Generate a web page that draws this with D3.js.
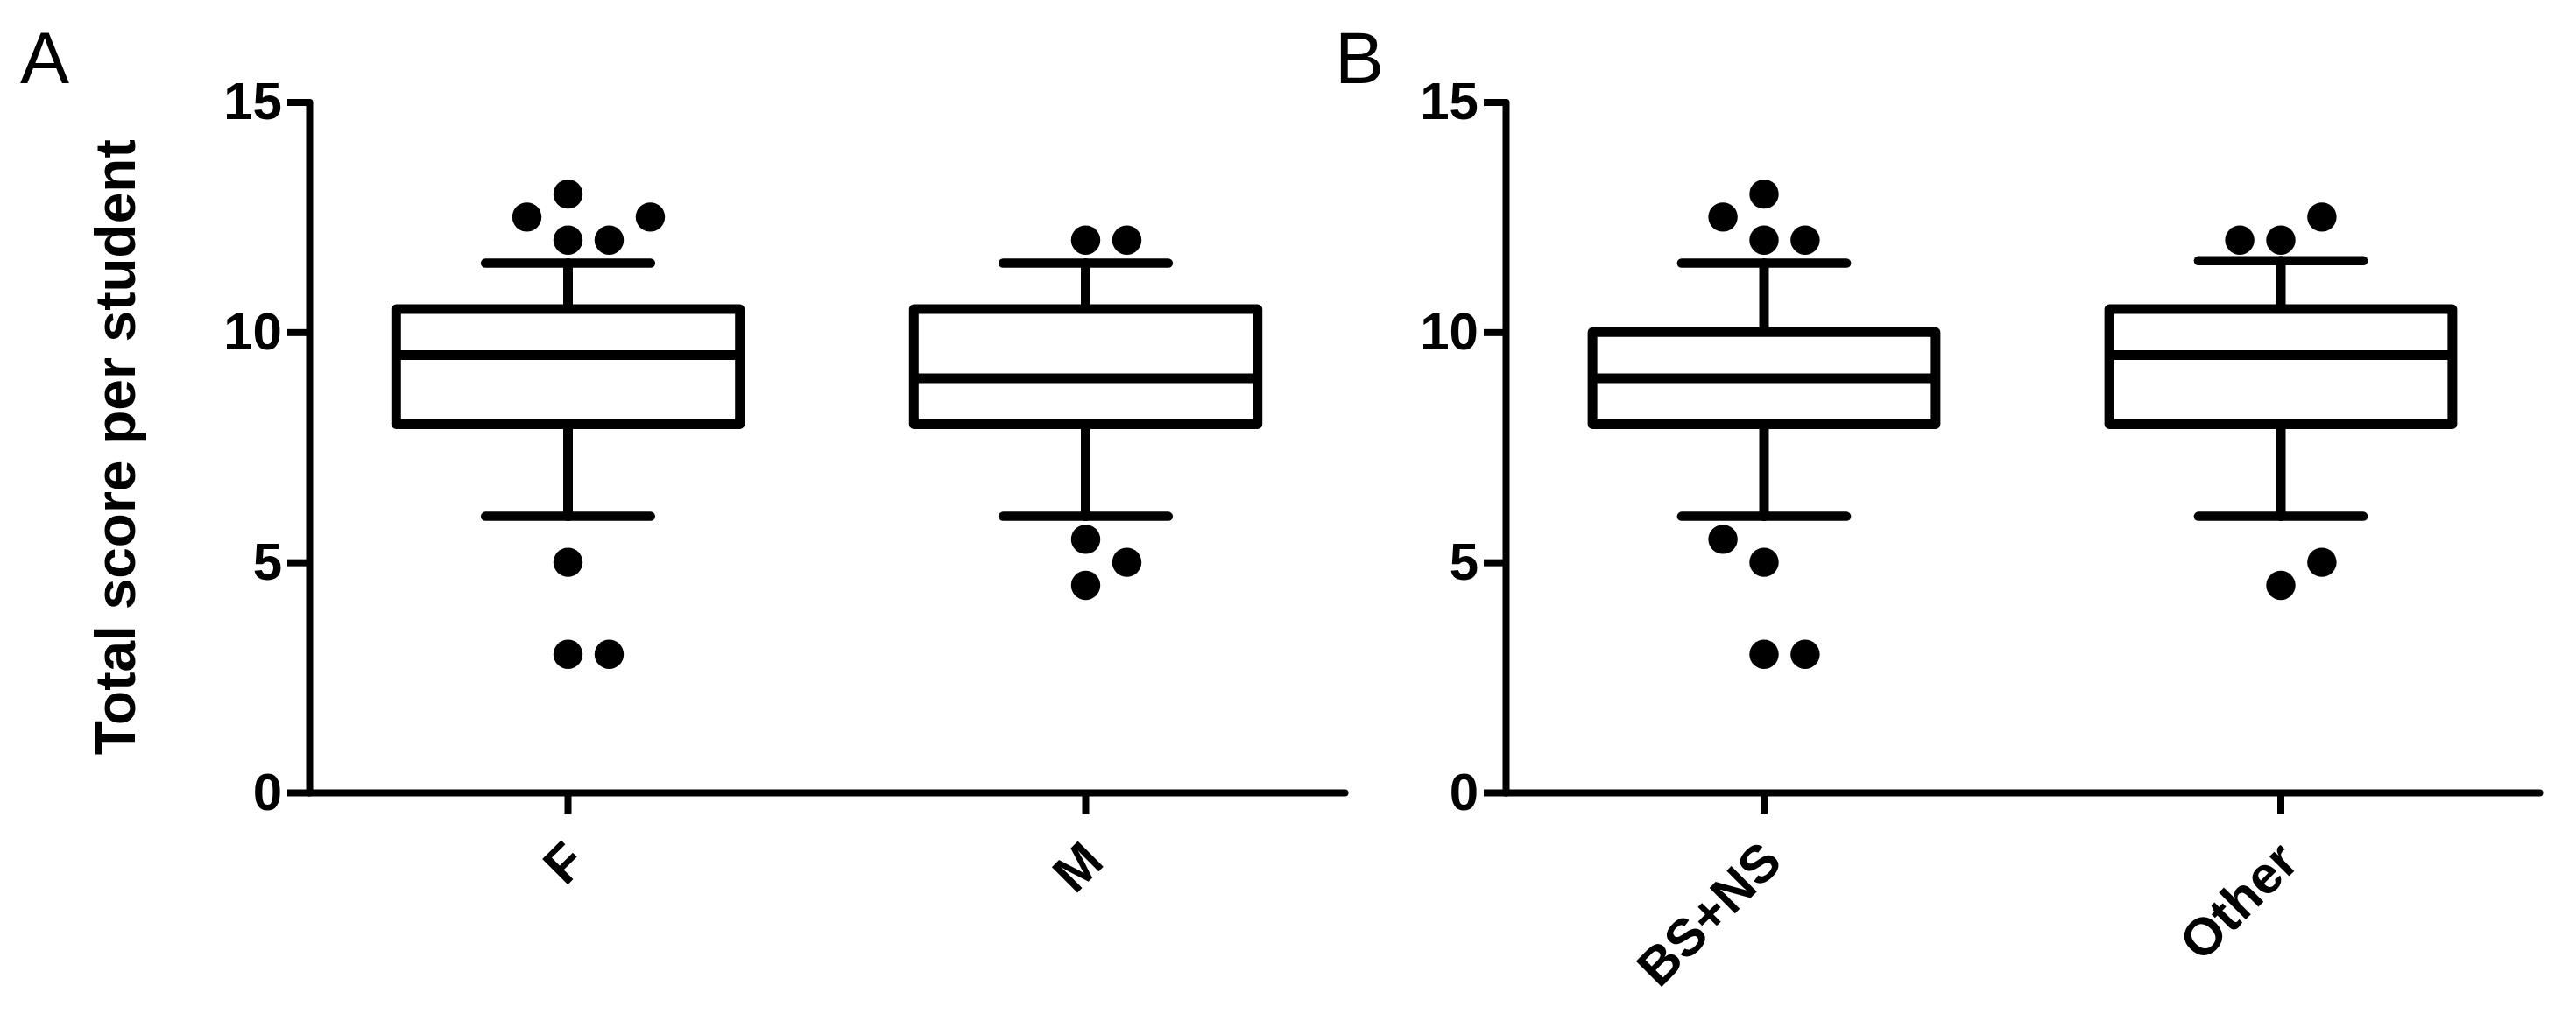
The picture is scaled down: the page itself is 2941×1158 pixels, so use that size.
<!DOCTYPE html>
<html>
<head>
<meta charset="utf-8">
<script src="https://cdn.jsdelivr.net/npm/d3@7"></script>
<style>
  html, body { margin: 0; padding: 0; background: #fff; }
  svg { display: block; }
  text { font-family: "Liberation Sans", Arial, sans-serif; fill: #000; }
</style>
</head>
<body>
<svg id="chart" width="2941" height="1158"></svg>
<script>
// ---- data ----
const yLabel = "Total score per student";
const yTicks = [0, 5, 10, 15];

const panelA = "A";
const catsA = ["F", "M"];
const minA = [6, 6];
const q1A = [8, 8];
const medA = [9.5, 9];
const q3A = [10.5, 10.5];
const maxA = [11.5, 11.5];
const outValsA = [[13, 12.5, 12.5, 12, 12, 5, 3, 3], [12, 12, 5.5, 5, 4.5]];
const outSlotsA = [[0, -1, 2, 0, 1, 0, 0, 1], [0, 1, 0, 1, 0]];

const panelB = "B";
const catsB = ["BS+NS", "Other"];
const minB = [6, 6];
const q1B = [8, 8];
const medB = [9, 9.5];
const q3B = [10, 10.5];
const maxB = [11.5, 11.55];
const outValsB = [[13, 12.5, 12, 12, 5.5, 5, 3, 3], [12, 12, 12.5, 5, 4.5]];
const outSlotsB = [[0, -1, 0, 1, -1, 0, 0, 1], [-1, 0, 1, 1, 0]];

// ---- drawing ----
const svg = d3.select("#chart");
const y = d3.scaleLinear().domain([0, 15]).range([905, 116.5]);

function drawPanel(letter, letterX, x0, x1, cats, mins, q1s, meds, q3s, maxs, outVals, outSlots) {
  const g = svg.append("g");
  const x = d3.scaleBand().domain(cats).range([x0, x1]).padding(0);
  const bw = x.bandwidth();
  const boxHalf = bw * 0.332;
  const capHalf = bw * 0.168;
  const slotW = bw * 0.0795;

  // panel letter
  svg.append("text").attr("x", letterX).attr("y", 95)
    .attr("font-size", 84).text(letter);

  // y axis
  const ya = g.append("g").attr("transform", `translate(${x0},0)`)
    .call(d3.axisLeft(y).tickValues(yTicks).tickSize(25).tickSizeOuter(0).tickPadding(6));
  // x axis
  const xa = g.append("g").attr("transform", `translate(0,${y(0)})`)
    .call(d3.axisBottom(x).tickSize(25).tickSizeOuter(0).tickFormat(() => ""));

  [ya, xa].forEach(a => {
    a.select(".domain").attr("stroke", "#000").attr("stroke-width", 8)
      .attr("stroke-linecap", "round").attr("fill", "none");
    a.selectAll(".tick line").attr("stroke", "#000").attr("stroke-width", 8);
  });
  ya.selectAll(".tick text").attr("font-size", 60).attr("font-weight", "bold")
    .attr("font-family", "Liberation Sans, Arial, sans-serif").attr("fill", "#000");

  // x labels rotated
  g.selectAll(".xlab").data(cats).enter().append("text")
    .attr("class", "xlab")
    .attr("transform", d => `translate(${x(d) + bw / 2 + 23},${y(0) + 82}) rotate(-45)`)
    .attr("text-anchor", "end")
    .attr("font-size", 60).attr("font-weight", "bold")
    .text(d => d);

  cats.forEach((c, i) => {
    const cx = x(c) + bw / 2;
    const bg = g.append("g").attr("stroke", "#000").attr("fill", "none")
      .attr("stroke-linecap", "round").attr("stroke-linejoin", "round");
    // whiskers
    bg.append("line").attr("x1", cx).attr("x2", cx).attr("y1", y(q3s[i])).attr("y2", y(maxs[i])).attr("stroke-width", 11);
    bg.append("line").attr("x1", cx).attr("x2", cx).attr("y1", y(q1s[i])).attr("y2", y(mins[i])).attr("stroke-width", 11);
    bg.append("line").attr("x1", cx - capHalf + 5).attr("x2", cx + capHalf - 5).attr("y1", y(maxs[i])).attr("y2", y(maxs[i])).attr("stroke-width", 10.5);
    bg.append("line").attr("x1", cx - capHalf + 5).attr("x2", cx + capHalf - 5).attr("y1", y(mins[i])).attr("y2", y(mins[i])).attr("stroke-width", 10.5);
    // box
    bg.append("rect").attr("x", cx - boxHalf).attr("y", y(q3s[i]))
      .attr("width", boxHalf * 2).attr("height", y(q1s[i]) - y(q3s[i]))
      .attr("fill", "#fff").attr("stroke-width", 11);
    // median
    bg.append("line").attr("x1", cx - boxHalf).attr("x2", cx + boxHalf)
      .attr("y1", y(meds[i])).attr("y2", y(meds[i])).attr("stroke-width", 11)
      .attr("stroke-linecap", "butt");
    // outliers
    g.selectAll(null).data(outVals[i].map((v, k) => ({ v, s: outSlots[i][k] })))
      .enter().append("circle")
      .attr("cx", d => cx + d.s * slotW)
      .attr("cy", d => y(d.v))
      .attr("r", 16.7)
      .attr("fill", "#000");
  });
}

drawPanel(panelA, 23, 353, 1535, catsA, minA, q1A, medA, q3A, maxA, outValsA, outSlotsA);
drawPanel(panelB, 1524, 1719, 2899, catsB, minB, q1B, medB, q3B, maxB, outValsB, outSlotsB);

// y axis title
svg.append("text")
  .attr("transform", `translate(154,${(y(0) + y(15)) / 2}) rotate(-90)`)
  .attr("text-anchor", "middle")
  .attr("font-size", 64).attr("font-weight", "bold")
  .text(yLabel);
</script>
</body>
</html>
